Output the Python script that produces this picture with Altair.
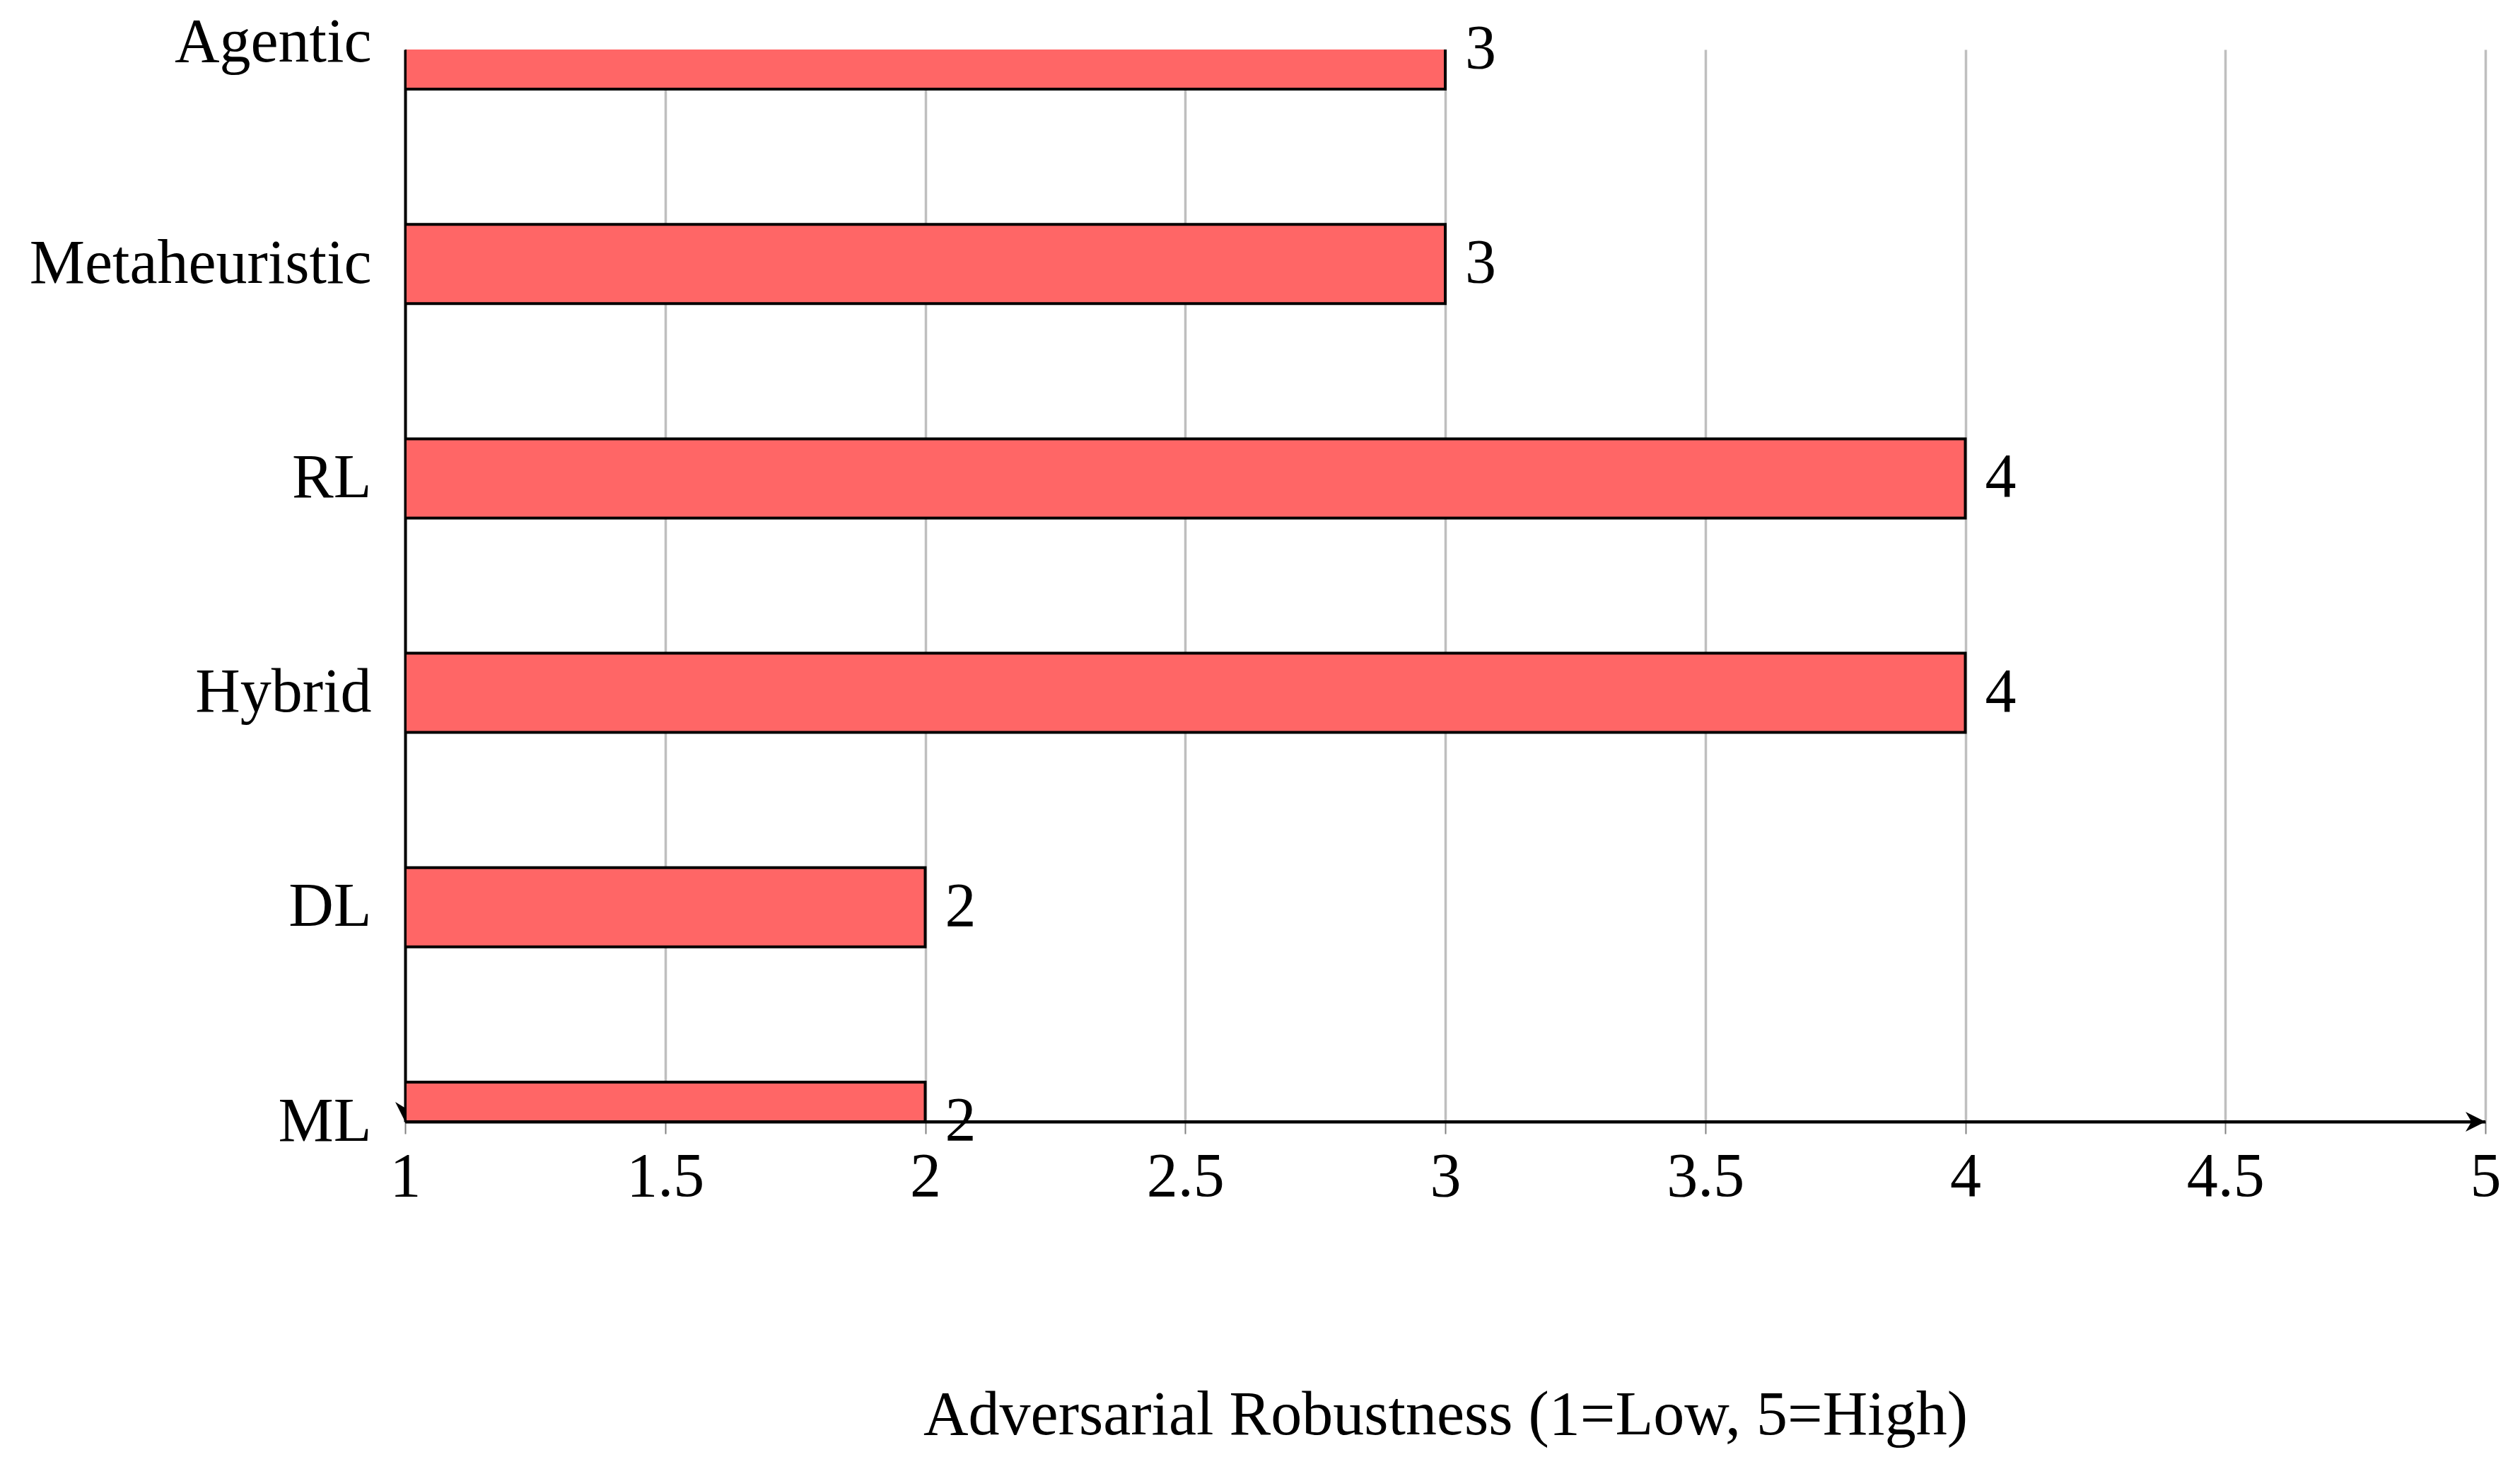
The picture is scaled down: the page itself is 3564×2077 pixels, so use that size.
import altair as alt
import pandas as pd

categories = ["Agentic", "Metaheuristic", "RL", "Hybrid", "DL", "ML"]
values = [3, 3, 4, 4, 2, 2]
x_ticks = [1, 1.5, 2, 2.5, 3, 3.5, 4, 4.5, 5]
x_title = "Adversarial Robustness (1=Low, 5=High)"

df = pd.DataFrame({"cat": categories, "val": values})

FONT = "Liberation Serif"
FS = 88
W, H = 2942, 1516

yscale = alt.Scale(type="point", padding=0, domain=categories)
xscale = alt.Scale(domain=[1, 5], nice=False, zero=False)

base = alt.Chart(df)

xaxis = alt.Axis(
    values=x_ticks,
    labelExpr="'' + datum.value",
    grid=True, gridColor="#bfbfbf", gridWidth=3.5,
    ticks=True, tickColor="#808080", tickWidth=2, tickSize=17,
    domain=True, domainColor="black", domainWidth=4,
    labelFont=FONT, labelFontSize=FS, labelColor="black", labelPadding=17.5,
    labelBaseline="top", labelFlush=False, labelOverlap=False, labelLimit=2000,
    title=x_title, titleFont=FONT, titleFontSize=FS, titleFontWeight="normal",
    titleColor="black", titleBaseline="alphabetic", titleY=441, titleX=W / 2,
    titleLimit=3000,
)
yaxis = alt.Axis(
    title=None, grid=False, ticks=False, tickSize=0,
    domain=True, domainColor="black", domainWidth=4,
    labelFont=FONT, labelFontSize=FS, labelColor="black", labelPadding=48,
    labelOffset={"condition": {"test": "datum.value === 'Agentic'", "value": -10}, "value": 0},
    labelOverlap=False, labelLimit=2000,
)

down_arrow = base.transform_filter("datum.cat === 'ML'").mark_point(
    shape="M0,0L-1,-2L0,-1.4L1,-2Z", size=784, filled=True, color="black",
    opacity=1, strokeWidth=0,
).encode(x=alt.X(datum=1, scale=xscale), y=alt.Y("cat:N", scale=yscale))

bars = base.mark_bar(
    size=112, color="#ff6666", stroke="black", strokeWidth=4, clip=True
).encode(
    x=alt.X("val:Q", scale=xscale, axis=xaxis),
    x2=alt.X2(datum=1),
    y=alt.Y("cat:N", scale=yscale, axis=yaxis, sort=categories),
)

xline = base.transform_filter("datum.cat === 'ML'").mark_rule(
    color="black", strokeWidth=4
).encode(x=alt.X(datum=1), x2=alt.X2(datum=5), y=alt.Y("cat:N"))

right_arrow = base.transform_filter("datum.cat === 'ML'").mark_point(
    shape="M0,0L-2,-1L-1.4,0L-2,1Z", size=784, filled=True, color="black",
    opacity=1, strokeWidth=0,
).encode(x=alt.X(datum=5), y=alt.Y("cat:N"))

labels = base.mark_text(
    align="left", baseline="middle", dx=28, font=FONT, fontSize=FS, color="black"
).encode(x=alt.X("val:Q"), y=alt.Y("cat:N"), text=alt.Text("val:Q"))

chart = alt.layer(down_arrow, bars, xline, right_arrow, labels).properties(
    width=W, height=H,
    padding={"left": 565, "top": 62, "right": 30, "bottom": 470},
    autosize=alt.AutoSizeParams(type="none"),
    background="white",
).configure_view(stroke=None)

chart.save("out.html", embed_options={"renderer": "svg", "actions": False})
